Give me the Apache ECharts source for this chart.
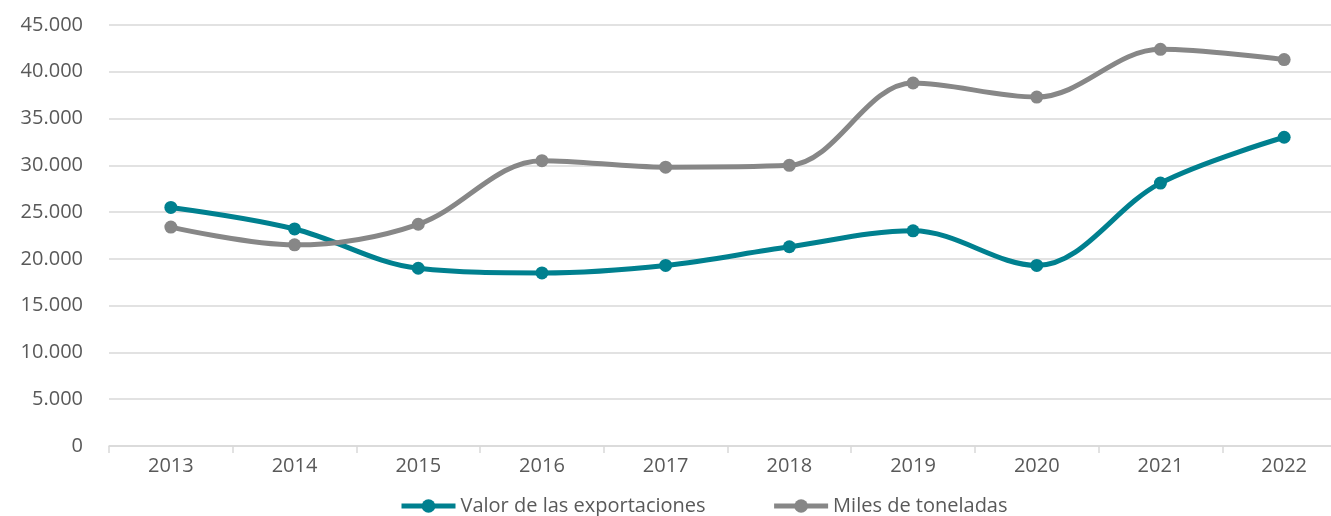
<!DOCTYPE html>
<html>
<head>
<meta charset="utf-8">
<script src="https://cdn.jsdelivr.net/npm/echarts@6/dist/echarts.min.js"></script>
<style>
html,body{margin:0;padding:0;background:#fff;overflow:hidden;width:1331px;height:516px;}
#chart{width:1346px;height:516px;}
</style>
</head>
<body>
<div id="chart"></div>
<script>
const categories = ['2013','2014','2015','2016','2017','2018','2019','2020','2021','2022'];
const valorExportaciones = [25500, 23200, 19000, 18500, 19300, 21300, 23000, 19300, 28100, 33000];
const milesToneladas = [23400, 21500, 23700, 30500, 29800, 30000, 38800, 37300, 42400, 41300];
const seriesNames = ['Valor de las exportaciones', 'Miles de toneladas'];

const FONT = 'Open Sans';
const chart = echarts.init(document.getElementById('chart'), null, {renderer: 'canvas'});
function fmt(v){
  return String(v).replace(/\B(?=(\d{3})+(?!\d))/g, '.');
}
chart.setOption({
  animation: false,
  grid: {left: 109, right: 0, top: 25, bottom: 70, containLabel: false},
  legend: {
    left: 394, top: 491,
    itemWidth: 54, itemHeight: 17, itemGap: 66,
    textStyle: {color: '#595959', fontSize: 20, fontFamily: FONT},
    lineStyle: {width: 5},
    data: seriesNames
  },
  xAxis: {
    type: 'category',
    data: categories,
    boundaryGap: true,
    axisLine: {lineStyle: {color: '#d9d9d9', width: 1.5}},
    axisTick: {show: true, length: 7, lineStyle: {color: '#d9d9d9', width: 1.5}},
    axisLabel: {color: '#595959', fontSize: 20, fontFamily: FONT, margin: 10}
  },
  yAxis: {
    type: 'value',
    min: 0, max: 45000, interval: 5000,
    axisLine: {show: false},
    axisTick: {show: false},
    splitLine: {lineStyle: {color: '#d9d9d9', width: 1.5}},
    axisLabel: {color: '#595959', fontSize: 20, fontFamily: FONT, margin: 26, formatter: fmt}
  },
  series: [
    {
      name: seriesNames[0], type: 'line', data: valorExportaciones,
      smooth: 0.35, symbol: 'circle', symbolSize: 13,
      lineStyle: {color: '#00808f', width: 5},
      itemStyle: {color: '#00808f'}
    },
    {
      name: seriesNames[1], type: 'line', data: milesToneladas,
      smooth: 0.35, symbol: 'circle', symbolSize: 13,
      lineStyle: {color: '#878787', width: 5},
      itemStyle: {color: '#878787'}
    }
  ]
});
</script>
</body>
</html>
